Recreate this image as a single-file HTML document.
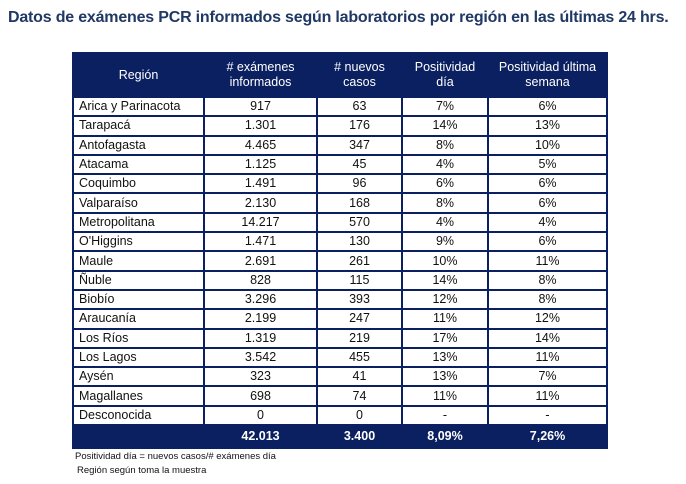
<!DOCTYPE html>
<html><head><meta charset="utf-8"><style>
body{margin:0;width:686px;height:484px;background:#fff;font-family:"Liberation Sans",sans-serif;position:relative;overflow:hidden}
.t{position:absolute;left:8px;top:9px;font-size:16px;font-weight:bold;color:#1f3864;white-space:nowrap;letter-spacing:-0.2px}
table{position:absolute;left:72px;top:52px;width:534px;border-collapse:collapse;font-size:12.5px;color:#111;table-layout:fixed}
td,th{border:2px solid #0b2060;padding:0;height:17.3px;line-height:15px;text-align:center}
td:first-child{text-align:left;padding-left:5px}
th{background:#0b2060;color:#fff;font-weight:normal;height:42px;line-height:15px;border-color:#0b2060}
tr.tot td{background:#0b2060;color:#fff;font-weight:bold;height:21px;border-color:#0b2060}
.f{position:absolute;left:75px;font-size:9.5px;color:#111}
</style></head><body>
<div class="t">Datos de exámenes PCR informados según laboratorios por región en las últimas 24 hrs.</div>
<table>
<colgroup><col style="width:131px"><col style="width:113px"><col style="width:85px"><col style="width:86px"><col style="width:119px"></colgroup>
<tr><th style="text-align:center">Región</th><th># exámenes<br>informados</th><th># nuevos<br>casos</th><th>Positividad<br>día</th><th>Positividad última<br>semana</th></tr>
<tr><td>Arica y Parinacota</td><td>917</td><td>63</td><td>7%</td><td>6%</td></tr>
<tr><td>Tarapacá</td><td>1.301</td><td>176</td><td>14%</td><td>13%</td></tr>
<tr><td>Antofagasta</td><td>4.465</td><td>347</td><td>8%</td><td>10%</td></tr>
<tr><td>Atacama</td><td>1.125</td><td>45</td><td>4%</td><td>5%</td></tr>
<tr><td>Coquimbo</td><td>1.491</td><td>96</td><td>6%</td><td>6%</td></tr>
<tr><td>Valparaíso</td><td>2.130</td><td>168</td><td>8%</td><td>6%</td></tr>
<tr><td>Metropolitana</td><td>14.217</td><td>570</td><td>4%</td><td>4%</td></tr>
<tr><td>O'Higgins</td><td>1.471</td><td>130</td><td>9%</td><td>6%</td></tr>
<tr><td>Maule</td><td>2.691</td><td>261</td><td>10%</td><td>11%</td></tr>
<tr><td>Ñuble</td><td>828</td><td>115</td><td>14%</td><td>8%</td></tr>
<tr><td>Biobío</td><td>3.296</td><td>393</td><td>12%</td><td>8%</td></tr>
<tr><td>Araucanía</td><td>2.199</td><td>247</td><td>11%</td><td>12%</td></tr>
<tr><td>Los Ríos</td><td>1.319</td><td>219</td><td>17%</td><td>14%</td></tr>
<tr><td>Los Lagos</td><td>3.542</td><td>455</td><td>13%</td><td>11%</td></tr>
<tr><td>Aysén</td><td>323</td><td>41</td><td>13%</td><td>7%</td></tr>
<tr><td>Magallanes</td><td>698</td><td>74</td><td>11%</td><td>11%</td></tr>
<tr><td>Desconocida</td><td>0</td><td>0</td><td>-</td><td>-</td></tr>
<tr class="tot"><td></td><td>42.013</td><td>3.400</td><td>8,09%</td><td>7,26%</td></tr>
</table>
<div class="f" style="top:451px">Positividad día = nuevos casos/# exámenes día</div>
<div class="f" style="top:465px;left:77px">Región según toma la muestra</div>
</body></html>
